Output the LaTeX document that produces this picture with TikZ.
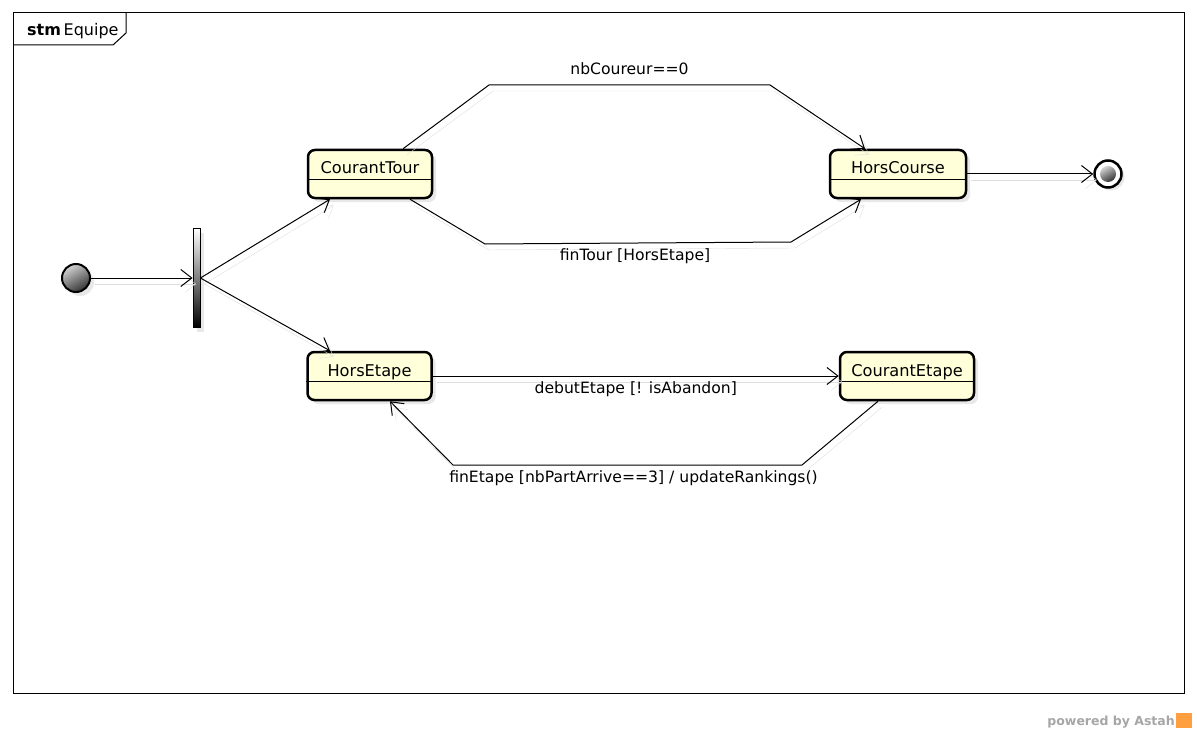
\documentclass[tikz,border=0pt]{standalone}
\usepackage{fontspec}
\setmainfont{DejaVu Sans}
\usetikzlibrary{arrows.meta,shadows}
\definecolor{stateyellow}{RGB}{255,255,218}
\tikzset{
          state/.style={draw, line width=2.5pt, rounded corners=7pt, fill=stateyellow,
            inner xsep=0pt, inner ysep=0pt, text height=24pt, text depth=24pt,
            font=\fontsize{16.2}{19}\selectfont,
            drop shadow={shadow xshift=4pt, shadow yshift=-4pt, fill=black!18}},
          lbl/.style={draw=none, fill=none, inner sep=0pt, anchor=base, font=\fontsize{15.6}{18}\selectfont}
        }
\begin{document}
\begin{tikzpicture}[x=1pt, y=-1pt,
        trans/.style={line width=1pt, -{Straight Barb[length=11pt, width=17pt]},
          preaction={draw=black!13, transform canvas={shift={(4pt,-6pt)}}}},
        init/.style={circle, draw, line width=2pt, minimum size=28pt, inner sep=0pt,
          top color=gray!35, bottom color=black!80, shading angle=30,
          drop shadow={shadow xshift=4pt, shadow yshift=-4pt, fill=black!18}},
        bar/.style={draw, line width=0.8pt, minimum width=7pt, minimum height=99pt, inner sep=0pt,
          top color=white, bottom color=black,
          drop shadow={shadow xshift=4pt, shadow yshift=-4pt, fill=black!18}}
      ]
  \useasboundingbox (0,0) rectangle (1197,733);

  % frame
  \draw[line width=1pt] (13,13) rectangle (1184,693);
  \draw[line width=1pt] (13,45) -- (113,45) -- (126,33) -- (126,13);
  \node[lbl, anchor=base west, font=\fontsize{16}{19}\selectfont] (frameLbl) at (27,36) {\textbf{stm}\,Equipe};

  % pseudo states
  \node[init] (init) at (76,278) {};
  \node[bar] (fork) at (196.5,278) {};
  \node[circle, draw, line width=2.5pt, fill=white, minimum size=27pt, inner sep=0pt,
    drop shadow={shadow xshift=3pt, shadow yshift=-3pt, fill=black!18}] (final) at (1108,174) {};
  \node[circle, minimum size=16pt, inner sep=0pt, top color=gray!35, bottom color=black!80,
    shading angle=30] (finalDot) at (final) {};

  % states
  \node[state, minimum width=124pt] (courantTour) at (370,174) {CourantTour};
  \node[state, minimum width=136pt] (horsCourse) at (898,174) {HorsCourse};
  \node[state, minimum width=124pt] (horsEtape) at (369.5,376) {HorsEtape};
  \node[state, minimum width=134pt] (courantEtape) at (907,376) {CourantEtape};
  \foreach \s in {courantTour,horsCourse,horsEtape,courantEtape} {
    \draw[line width=1pt] ([yshift=-31pt]\s.north west) -- ([yshift=-31pt]\s.north east);
  }

  % transitions
  \draw[trans] (init.east) -- (fork.west);
  \draw[trans] (fork.east) -- ([xshift=-40pt]courantTour.south);
  \draw[trans] (fork.east) -- ([xshift=-39.5pt]horsEtape.north);
  \draw[trans] ([xshift=33pt]courantTour.north) -- (489,85)
    -- node[lbl, yshift=10pt] {nbCoureur==0} (770,85) -- ([xshift=-33pt]horsCourse.north);
  \draw[trans] ([xshift=40pt]courantTour.south) -- (485,244)
    -- node[lbl, xshift=-3pt, yshift=-17pt] {finTour [HorsEtape]} (791,242) -- ([xshift=-37pt]horsCourse.south);
  \draw[trans] (horsCourse.east) -- (final.west);
  \draw[trans] (horsEtape.east) -- node[lbl, yshift=-17pt] {debutEtape [! isAbandon]} (courantEtape.west);
  \draw[trans] ([xshift=-29pt]courantEtape.south) -- (802,465)
    -- node[lbl, xshift=6pt, yshift=-17pt] {finEtape [nbPartArrive==3] / updateRankings()} (453,465)
    -- ([xshift=20.5pt]horsEtape.south);

  % footer
  \node[lbl, anchor=base east, text=black!35, font=\fontsize{12.5}{15}\selectfont\bfseries] (astah) at (1175,725) {powered by Astah};
  \fill[orange!75] ([xshift=1pt,yshift=12pt]astah.base east) rectangle ++(16,15);
\end{tikzpicture}
\end{document}
